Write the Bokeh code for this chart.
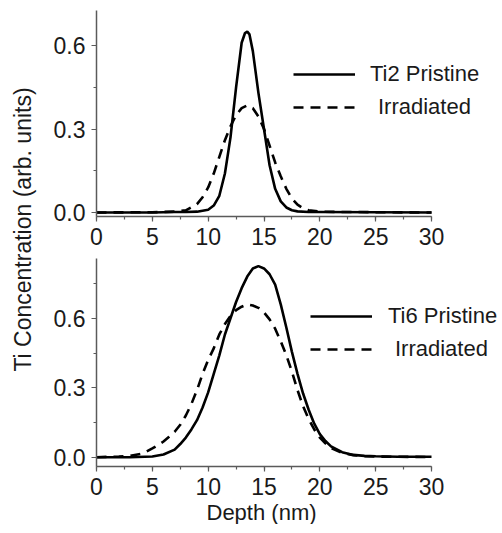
import math
from bokeh.plotting import figure
from bokeh.layouts import row, column
from bokeh.models import (Range1d, SingleIntervalTicker, NumeralTickFormatter,
                          Legend, LegendItem, Label, Title)
from bokeh.embed import file_html
from bokeh.resources import INLINE

# ---------------- data ----------------
ti2_pristine_x = [0, 5, 7, 8, 9, 10, 10.5, 11, 11.5, 12, 12.5, 13, 13.3, 13.5, 13.7, 14,
                  14.5, 15, 15.5, 16, 16.5, 17, 17.5, 18, 19, 20, 25, 30]
ti2_pristine_y = [0.0, 0.0, 0.002, 0.002, 0.003, 0.01, 0.025, 0.06, 0.14, 0.27, 0.45, 0.61,
                  0.645, 0.65, 0.64, 0.58, 0.43, 0.30, 0.17, 0.085, 0.04, 0.018, 0.008,
                  0.004, 0.002, 0.002, 0.001, 0.0]

ti2_irr_x = [0, 5, 7, 8, 9, 9.5, 10, 10.5, 11, 11.5, 12, 12.5, 13, 13.5, 14, 14.5, 15,
             15.5, 16, 16.5, 17, 17.5, 18, 18.5, 19, 20, 22, 25, 30]
ti2_irr_y = [0.0, 0.001, 0.003, 0.008, 0.03, 0.055, 0.09, 0.14, 0.2, 0.26, 0.31, 0.35,
             0.375, 0.385, 0.375, 0.345, 0.30, 0.24, 0.18, 0.13, 0.085, 0.05, 0.028,
             0.015, 0.008, 0.003, 0.002, 0.001, 0.0]

ti6_pristine_x = [0, 3, 5, 6, 7, 7.5, 8, 8.5, 9, 9.5, 10, 10.5, 11, 11.5, 12, 12.5, 13,
                  13.5, 14, 14.5, 15, 15.5, 16, 16.5, 17, 17.5, 18, 18.5, 19, 19.5, 20,
                  20.5, 21, 22, 23, 24, 25, 27, 30]
ti6_pristine_y = [0.0, 0.0, 0.003, 0.012, 0.033, 0.057, 0.085, 0.12, 0.16, 0.215, 0.28,
                  0.36, 0.44, 0.53, 0.60, 0.67, 0.73, 0.78, 0.815, 0.825, 0.815, 0.79,
                  0.745, 0.66, 0.56, 0.455, 0.36, 0.275, 0.205, 0.145, 0.10, 0.07, 0.047,
                  0.022, 0.01, 0.006, 0.004, 0.002, 0.002]

ti6_irr_x = [0, 2, 3, 4, 4.5, 5, 5.5, 6, 6.5, 7, 7.5, 8, 8.5, 9, 9.5, 10, 10.5, 11, 11.5,
             12, 12.5, 13, 13.5, 14, 14.5, 15, 15.5, 16, 16.5, 17, 17.5, 18, 18.5, 19,
             19.5, 20, 20.5, 21, 22, 23, 24, 25, 27, 30]
ti6_irr_y = [0.0, 0.003, 0.006, 0.015, 0.025, 0.038, 0.052, 0.068, 0.088, 0.11, 0.14,
             0.18, 0.23, 0.29, 0.36, 0.42, 0.47, 0.53, 0.575, 0.61, 0.635, 0.65, 0.66,
             0.655, 0.645, 0.625, 0.595, 0.555, 0.50, 0.44, 0.37, 0.29, 0.22, 0.165,
             0.12, 0.085, 0.06, 0.04, 0.018, 0.009, 0.005, 0.003, 0.002, 0.001]

top_labels = ["Ti2 Pristine", "Irradiated"]
bottom_labels = ["Ti6 Pristine", "Irradiated"]
x_label = "Depth  (nm)"
y_label = "Ti Concentration (arb. units)"
x_bounds = (0, 30)

FONT = "Liberation Sans"
AXIS_GREY = "#5a5a5a"
TXT = "#1a1a1a"
LW = 2.6
DASH = "10 7"
FRAME_W = 403
X_END = FRAME_W / (335 / 30)   # keeps 0..30 spanning 335 px, room for the legend


def style(p, ylo, yhi):
    p.x_range = Range1d(0, X_END)
    p.y_range = Range1d(ylo, yhi)
    p.xgrid.visible = False
    p.ygrid.visible = False
    p.outline_line_color = None
    p.xaxis.bounds = x_bounds
    p.xaxis.ticker = SingleIntervalTicker(interval=5, num_minor_ticks=2)
    p.yaxis.ticker = SingleIntervalTicker(interval=0.3, num_minor_ticks=2)
    p.yaxis.formatter = NumeralTickFormatter(format="0.0")
    for ax in (p.xaxis[0], p.yaxis[0]):
        ax.axis_line_color = AXIS_GREY
        ax.axis_line_width = 1.5
        ax.major_tick_line_color = AXIS_GREY
        ax.minor_tick_line_color = AXIS_GREY
        ax.major_tick_line_width = 1.2
        ax.minor_tick_line_width = 1.2
        ax.major_tick_in = 0
        ax.major_tick_out = 5
        ax.minor_tick_in = 0
        ax.minor_tick_out = 3
        ax.major_label_text_font = FONT
        ax.major_label_text_font_size = "23px"
        ax.major_label_text_color = TXT
    p.xaxis.major_label_standoff = 6
    p.yaxis.major_label_standoff = 6


def add_legend(p, r, label, x, y, standoff):
    lg = Legend(items=[LegendItem(label=label, renderers=[r])], location=(x, y),
                padding=0, margin=0, spacing=0, glyph_width=62, glyph_height=20,
                label_height=20, label_standoff=standoff, border_line_color=None,
                background_fill_alpha=0, label_text_font=FONT,
                label_text_font_size="22px", label_text_color=TXT)
    p.add_layout(lg)


# ---------------- y-label strip ----------------
lab = figure(width=48, height=525, output_backend="svg", toolbar_location=None,
             min_border=0, x_range=(0, 1), y_range=(0, 1))
lab.axis.visible = False
lab.grid.visible = False
lab.outline_line_color = None
lab.add_layout(Label(x=22, y=296, x_units="screen", y_units="screen", text=y_label,
                     angle=math.pi / 2, text_align="center", text_baseline="middle",
                     text_font=FONT, text_font_size="23px", text_color=TXT))

# ---------------- top panel ----------------
p1 = figure(frame_width=FRAME_W, frame_height=206, output_backend="svg",
            toolbar_location=None, min_border_left=48, min_border_right=0,
            min_border_top=10, min_border_bottom=40)
style(p1, -0.0144, 0.726)
r1 = p1.line(ti2_pristine_x, ti2_pristine_y, line_color="black", line_width=LW)
r2 = p1.line(ti2_irr_x, ti2_irr_y, line_color="black", line_width=LW, line_dash=DASH)
add_legend(p1, r1, top_labels[0], 197, 129, 15)
add_legend(p1, r2, top_labels[1], 197, 96, 23)

# ---------------- bottom panel ----------------
p2 = figure(frame_width=FRAME_W, frame_height=208, output_backend="svg",
            toolbar_location=None, min_border_left=48, min_border_right=0,
            min_border_top=2, min_border_bottom=8)
style(p2, -0.040, 0.858)
p2.add_layout(Title(text=x_label, align="left", offset=110, standoff=0,
                    text_font=FONT, text_font_size="22px", text_font_style="normal",
                    text_color=TXT), "below")
r3 = p2.line(ti6_pristine_x, ti6_pristine_y, line_color="black", line_width=LW)
r4 = p2.line(ti6_irr_x, ti6_irr_y, line_color="black", line_width=LW, line_dash=DASH)
add_legend(p2, r3, bottom_labels[0], 214, 137, 16)
add_legend(p2, r4, bottom_labels[1], 214, 104, 23)

layout = row(lab, column(p1, p2, spacing=0), spacing=0)

open("out.html", "w").write(file_html(layout, INLINE))
